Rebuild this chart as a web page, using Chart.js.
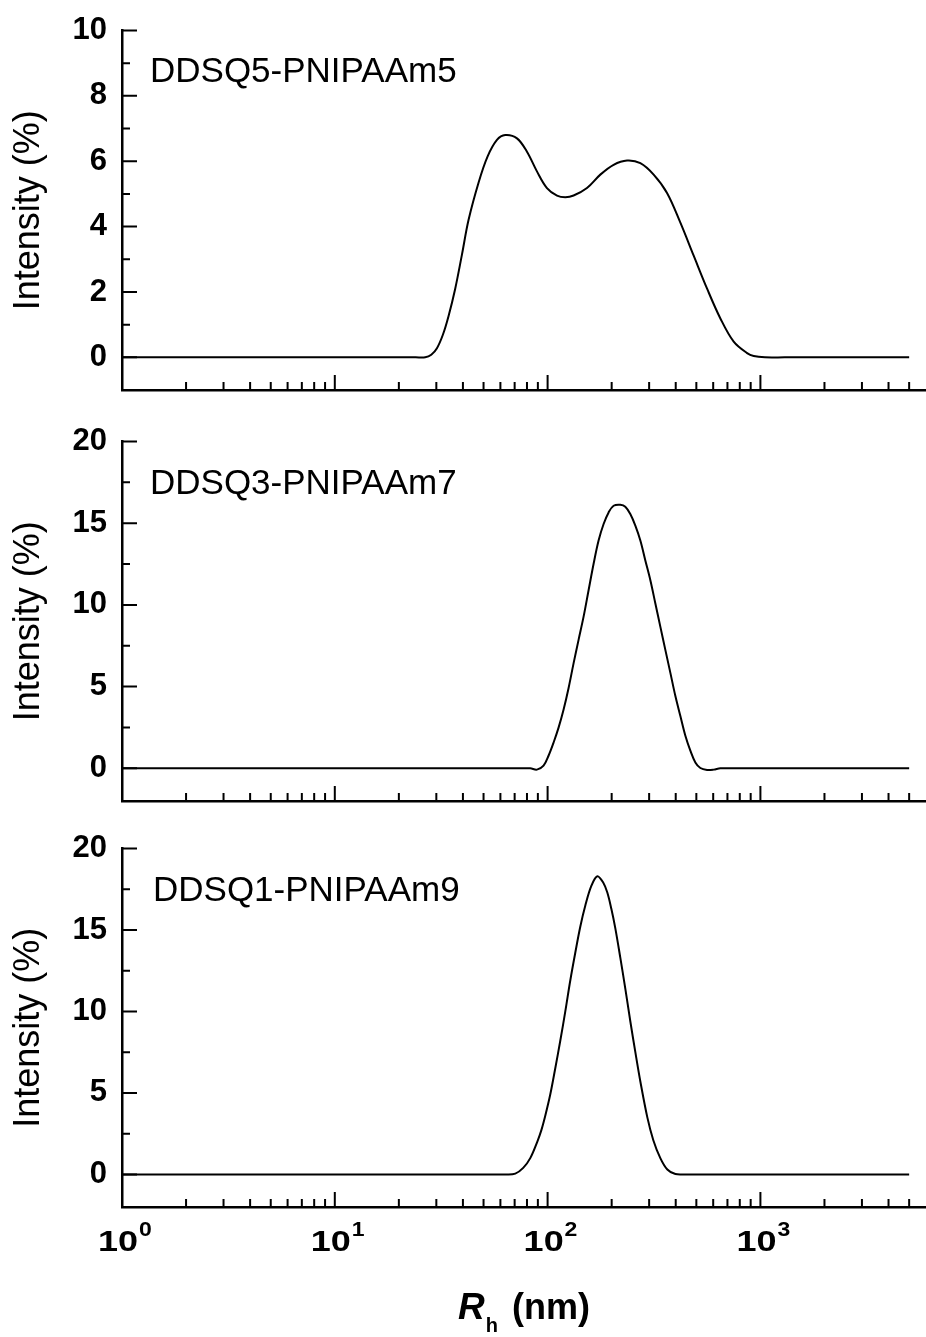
<!DOCTYPE html>
<html><head><meta charset="utf-8">
<script src="https://cdn.jsdelivr.net/npm/chart.js@4.4.1/dist/chart.umd.min.js"></script>
<style>
html,body{margin:0;padding:0;background:#fff;width:926px;height:1337px;overflow:hidden;}
canvas{position:absolute;left:0;display:block;}
</style></head><body>
<canvas id="c1" width="926" height="429" style="top:0px"></canvas>
<canvas id="c2" width="926" height="429" style="top:411px"></canvas>
<canvas id="c3" width="926" height="519" style="top:818px"></canvas>
<script>
const FONT = '"Liberation Sans", Arial, Helvetica, sans-serif';

// x axis (R_h, nm), logarithmic
const xMajorTicks = [1, 10, 100, 1000];
const xMinorTicks = [2,3,4,5,6,7,8,9,20,30,40,50,60,70,80,90,200,300,400,500,600,700,800,900,2000,3000,4000,5000];
const xMin = 1, xMax = 6000;

// sample names
const sampleNames = ['DDSQ5-PNIPAAm5', 'DDSQ3-PNIPAAm7', 'DDSQ1-PNIPAAm9'];

// panel 1: DDSQ5-PNIPAAm5
const rh1 = [1, 10, 20, 24, 26.6, 28.4, 30.2, 32.2, 34.2, 36.8, 39.6, 42.5, 47.4, 52.2, 57.8, 63.2, 71.8, 80.0, 89.1, 99.3, 110.7, 121.1, 132.5, 153.1, 176.9, 204.2, 236.2, 272.8, 315, 364.1, 420.6, 485.8, 561.6, 648.4, 748.9, 865.8, 930, 1050, 1300, 2000, 5000];
const int1 = [0, 0, 0, 0, 0, 0.08, 0.28, 0.69, 1.25, 2.1, 3.15, 4.2, 5.35, 6.14, 6.65, 6.8, 6.7, 6.29, 5.69, 5.18, 4.95, 4.9, 4.95, 5.18, 5.59, 5.89, 6.02, 5.94, 5.59, 5.03, 4.12, 3.11, 2.1, 1.19, 0.48, 0.13, 0.04, 0, 0, 0, 0];
const yMajor1 = [0, 2, 4, 6, 8, 10];
const yMinor1 = [1, 3, 5, 7, 9];

// panel 2: DDSQ3-PNIPAAm7
const rh2 = [1, 10, 50, 75, 82.9, 89.1, 95.7, 101.0, 106.7, 112.6, 118.9, 125.5, 132.5, 139.8, 147.6, 155.8, 164.5, 173.6, 183.3, 193.5, 204.2, 219.6, 231.8, 244.7, 258.4, 272.8, 287.9, 304.0, 320.9, 338.6, 357.5, 377.5, 398.5, 420.6, 444.0, 468.6, 494.7, 522.2, 561.6, 603.0, 648.4, 750, 1000, 5000];
const int2 = [0, 0, 0, 0, 0, -0.08, 0.16, 0.77, 1.58, 2.49, 3.6, 4.92, 6.44, 7.86, 9.28, 10.9, 12.52, 13.94, 14.95, 15.66, 16.07, 16.13, 16.01, 15.56, 14.85, 13.94, 12.72, 11.51, 10.09, 8.67, 7.25, 5.84, 4.42, 3.2, 1.99, 1.08, 0.36, 0.02, -0.1, -0.08, 0, 0, 0, 0];
const yMajor2 = [0, 5, 10, 15, 20];
const yMinor2 = [2.5, 7.5, 12.5, 17.5];

// panel 3: DDSQ1-PNIPAAm9
const rh3 = [1, 10, 40, 56, 63.2, 70.5, 76.8, 82.9, 89.4, 93.4, 97.5, 102.9, 108.6, 114.7, 121.1, 127.8, 134.9, 142.4, 150.4, 160.5, 171.2, 182.7, 190.8, 199.3, 208.1, 219.6, 231.8, 244.7, 258.4, 272.8, 294.2, 313.9, 338.6, 365.3, 398.5, 444.0, 520, 1000, 5000];
const int3 = [0, 0, 0, 0, 0, 0.05, 0.4, 1.0, 2.0, 2.7, 3.6, 4.9, 6.5, 8.2, 10.0, 11.9, 13.6, 15.2, 16.5, 17.7, 18.3, 17.9, 17.3, 16.3, 15.1, 13.3, 11.4, 9.4, 7.5, 5.7, 3.5, 2.1, 1.0, 0.3, 0.02, 0, 0, 0, 0];
const yMajor3 = [0, 5, 10, 15, 20];
const yMinor3 = [2.5, 7.5, 12.5, 17.5];

function wideText(ctx, txt, x, y, font, sx) {
  ctx.save();
  ctx.font = font;
  ctx.translate(x, y);
  ctx.scale(sx, 1);
  ctx.fillText(txt, 0, 0);
  ctx.restore();
}

const deco = {
  id: 'deco',
  afterDraw(chart, args, o) {
    const ctx = chart.ctx, a = chart.chartArea, x = chart.scales.x, y = chart.scales.y;
    ctx.save();
    ctx.strokeStyle = '#000';
    ctx.lineWidth = 2;
    ctx.beginPath();
    xMajorTicks.forEach(v => { const p = x.getPixelForValue(v); ctx.moveTo(p, a.bottom); ctx.lineTo(p, a.bottom - 15); });
    xMinorTicks.forEach(v => { const p = x.getPixelForValue(v); ctx.moveTo(p, a.bottom); ctx.lineTo(p, a.bottom - 8); });
    o.yMajor.forEach(v => { const p = y.getPixelForValue(v); ctx.moveTo(a.left, p); ctx.lineTo(a.left + 15, p); });
    o.yMinor.forEach(v => { const p = y.getPixelForValue(v); ctx.moveTo(a.left, p); ctx.lineTo(a.left + 8, p); });
    ctx.stroke();
    ctx.fillStyle = '#000';
    ctx.textAlign = 'left';
    ctx.textBaseline = 'alphabetic';
    ctx.font = '35px ' + FONT;
    ctx.fillText(o.label, o.labelX, a.top + o.labelDy);
    if (o.showX) {
      xMajorTicks.forEach(v => {
        const p = x.getPixelForValue(v);
        wideText(ctx, '10', p - 24, a.bottom + 44, 'bold 30px ' + FONT, 1.2);
        wideText(ctx, String(Math.round(Math.log10(v))), p + 17, a.bottom + 29, 'bold 20px ' + FONT, 1.15);
      });
      let tx = 458;
      const ty = a.bottom + 112;
      ctx.font = 'italic bold 37px ' + FONT;
      ctx.fillText('R', tx, ty);
      tx += ctx.measureText('R').width;
      ctx.font = 'bold 20px ' + FONT;
      ctx.fillText('h', tx + 1, ty + 13);
      ctx.font = 'bold 36px ' + FONT;
      ctx.fillText('(nm)', 512, ty);
    }
    ctx.restore();
  }
};

function makeChart(id, xs, ys, yMin, yMax, yMajor, yMinor, label, labelX, labelDy, xHeight, showX) {
  const pts = xs.map((v, i) => ({ x: v, y: ys[i] }));
  return new Chart(document.getElementById(id), {
    type: 'line',
    data: { datasets: [{ data: pts, borderColor: '#000', borderWidth: 2, pointRadius: 0, fill: false, tension: 0.35 }] },
    options: {
      responsive: false,
      animation: false,
      events: [],
      layout: { padding: { top: 23, left: 0, right: 0, bottom: 0 } },
      plugins: {
        legend: { display: false }, tooltip: { enabled: false },
        deco: { yMajor, yMinor, label, labelX, labelDy, showX }
      },
      scales: {
        x: {
          type: 'logarithmic', min: xMin, max: xMax,
          afterBuildTicks: s => { s.ticks = xMajorTicks.map(v => ({ value: v })); },
          afterFit: s => { s.height = xHeight; },
          grid: { display: false, drawTicks: false },
          border: { display: true, color: '#000', width: 2.5 },
          ticks: { display: false }
        },
        y: {
          min: yMin, max: yMax,
          afterBuildTicks: s => { s.ticks = yMajor.map(v => ({ value: v })); },
          afterFit: s => { s.width = 122; },
          grid: { display: false, drawTicks: false },
          border: { display: true, color: '#000', width: 2.5 },
          ticks: { color: '#000', padding: 15, font: { family: FONT, size: 31, weight: 'bold', lineHeight: 1 } },
          title: { display: true, text: 'Intensity (%)', color: '#000', padding: { top: 7, bottom: 0 }, font: { family: FONT, size: 36, lineHeight: 1.2 } }
        }
      }
    },
    plugins: [deco]
  });
}

makeChart('c1', rh1, int1, -1, 10, yMajor1, yMinor1, sampleNames[0], 150, 51, 39, false);
makeChart('c2', rh2, int2, -2, 20, yMajor2, yMinor2, sampleNames[1], 150, 52, 39, false);
makeChart('c3', rh3, int3, -2, 20, yMajor3, yMinor3, sampleNames[2], 153, 52, 130, true);
</script>
</body></html>
